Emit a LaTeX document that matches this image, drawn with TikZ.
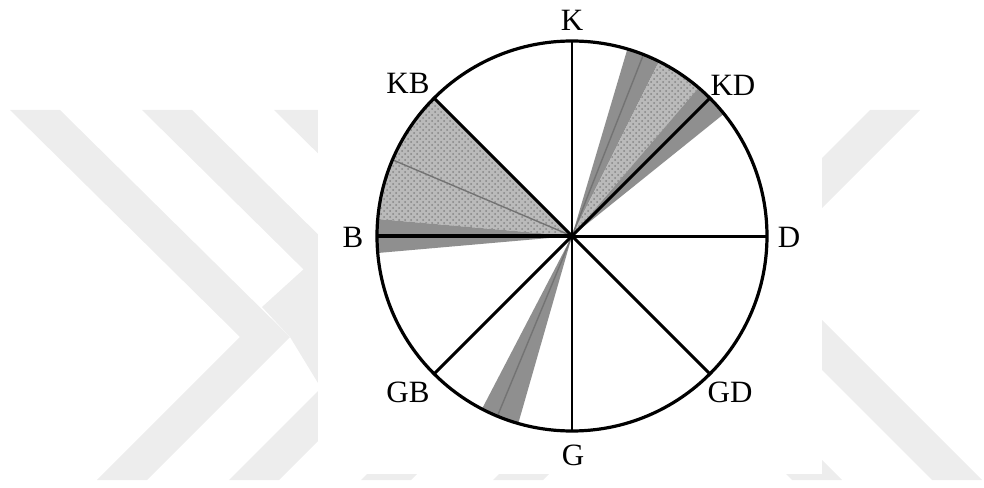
\documentclass[tikz,border=0pt]{standalone}
\usepackage{fontspec}
\setmainfont{Liberation Serif}
\usetikzlibrary{patterns}

\begin{document}
\begin{tikzpicture}[x=0.5pt,y=0.5pt,
  wm/.style={fill=black!7},
  stip/.style={fill=black!27,postaction={pattern=crosshatch dots,pattern color=black!48}},
  band/.style={fill=black!44},
  ray/.style={line width=1.5pt},
  thinray/.style={line width=0.7pt,draw=black!55},
  lbl/.style={inner sep=0pt,font=\fontsize{15.5}{18}\selectfont}]
  \useasboundingbox (-572,-251) rectangle (412,236);
  % watermark (px, y down)
  \begin{scope}[shift={(-572,236)},yscale=-1]
    \clip (0,110) rectangle (984,480);
    \foreach \d in {0,132,264,396}
      \fill[wm] ({10+\d},110) -- ({60+\d},110) -- ({290+\d},337) -- ({147+\d},480) -- ({97+\d},480) -- ({240+\d},337) -- cycle;
    \fill[wm] (262,307) -- (305,268) -- (318,281) -- (318,383) -- (290,337) -- cycle;
    \foreach \d in {0,-140}
      \fill[wm] ({870+\d},110) -- ({920+\d},110) -- ({766+\d},264) -- ({982+\d},480) -- ({932+\d},480) -- ({716+\d},264) -- cycle;
  \end{scope}
  \fill[white] (-254,-238) rectangle (250,236);

  % points on the rim
  \coordinate (O) at (0,0);
  \foreach \n/\a in {K/90,KD/45,D/0,GD/-45,G/-90,GB/-135,B/180,KB/135}
    \coordinate (p\n) at (\a:195);
  \coordinate (t1) at (157:195);
  \coordinate (t2) at (68.5:195);
  \coordinate (t3) at (247.5:195);

  % shaded sectors
  \fill[stip] (O) -- (pKB) arc[start angle=135,end angle=175,radius=195] -- cycle;
  \fill[band] (O) -- (175:195) arc[start angle=175,end angle=185,radius=195] -- cycle;
  \fill[band] (O) -- (63.5:195) arc[start angle=63.5,end angle=73.5,radius=195] -- cycle;
  \fill[stip] (O) -- (49.5:195) arc[start angle=49.5,end angle=63.5,radius=195] -- cycle;
  \fill[band] (O) -- (38.8:195) arc[start angle=38.8,end angle=49.5,radius=195] -- cycle;
  \fill[band] (O) -- (242.5:195) arc[start angle=242.5,end angle=254,radius=195] -- cycle;
  \foreach \t in {t1,t2,t3}
    \draw[thinray] (O) -- (\t);

  % rays and rim
  \foreach \n in {KD,D,GD,GB,KB}
    \draw[ray] (O) -- (p\n);
  \draw[ray,line width=1.3pt] (pK) -- (pG);
  \draw[ray,line width=1.9pt] (O) -- (pB);
  \draw[line width=1.6pt] (O) circle[radius=195];

  % labels
  \node[lbl] (lK) at (0,216) {K};
  \node[lbl] (lKD) at (161,151) {KD};
  \node[lbl] (lD) at (217,-1) {D};
  \node[lbl] (lGD) at (158,-156) {GD};
  \node[lbl] (lG) at (1,-219) {G};
  \node[lbl] (lGB) at (-164,-156) {GB};
  \node[lbl] (lB) at (-219,-1) {B};
  \node[lbl] (lKB) at (-164,153) {KB};
\end{tikzpicture}
\end{document}
